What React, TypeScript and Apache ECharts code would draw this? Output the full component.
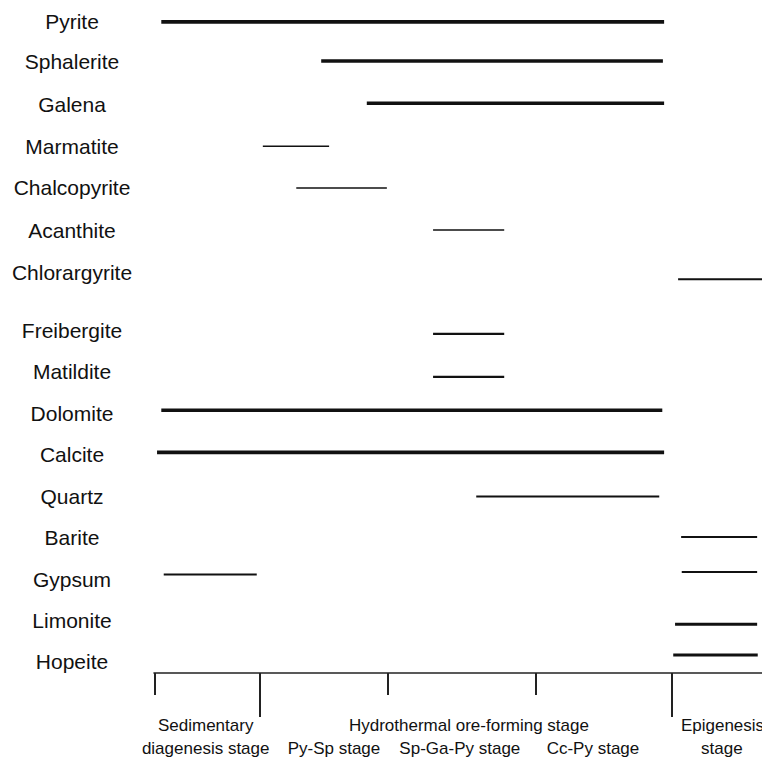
import React, { useEffect, useRef } from "react";
import * as echarts from "echarts";

// Mineral names and their label rows (row units, top = 0)
const minerals = [
  "Pyrite", "Sphalerite", "Galena", "Marmatite", "Chalcopyrite", "Acanthite",
  "Chlorargyrite", "Freibergite", "Matildite", "Dolomite", "Calcite", "Quartz",
  "Barite", "Gypsum", "Limonite", "Hopeite",
];
const labelRows = [0, 0.96, 1.97, 2.98, 3.98, 4.99, 6.0, 7.4, 8.39, 9.38, 10.36, 11.37, 12.36, 13.36, 14.34, 15.34];

// Occurrence segments (x in relative paragenetic time 0-100)
const segMineral = [0, 1, 2, 3, 4, 5, 6, 7, 8, 9, 10, 11, 12, 13, 13, 14, 15];
const segStart = [1.2, 27.5, 35.0, 17.9, 23.4, 45.9, 86.2, 45.9, 45.9, 1.2, 0.5, 53.0, 86.7, 1.6, 86.8, 85.7, 85.4];
const segEnd = [83.9, 83.7, 83.9, 28.8, 38.3, 57.6, 100, 57.6, 57.6, 83.6, 83.9, 83.1, 99.2, 16.9, 99.2, 99.2, 99.3];
const segRow = [0, 0.94, 1.95, 2.98, 3.98, 4.99, 6.17, 7.48, 8.51, 9.31, 10.32, 11.38, 12.35, 13.25, 13.19, 14.44, 15.18];
const segAbundance = [
  "major", "major", "major", "trace", "trace", "trace", "minor", "minor", "minor",
  "major", "major", "minor", "minor", "minor", "minor", "common", "common",
];

// Stage boundaries on the time axis
const stageBoundaries = [0, 17.43, 38.49, 62.83, 85.2];
const boundaryMajor = [false, true, false, false, true];

// Stage labels
const stageLabelText = [
  "Sedimentary", "diagenesis stage", "Hydrothermal ore-forming stage",
  "Py-Sp stage", "Sp-Ga-Py stage", "Cc-Py stage", "Epigenesis", "stage",
];
const stageLabelX = [8.5, 8.5, 51.8, 29.6, 50.3, 72.2, 93.5, 93.4];
const stageLabelLine = [0, 1, 0, 1, 1, 1, 0, 1];

const Y_MIN = -0.5;
const Y_MAX = 15.61;
const FONT = "'Liberation Sans', Arial, Helvetica, sans-serif";
const widthFor: Record<string, number> = { major: 3.6, common: 3, minor: 2.1, trace: 1.5 };

export default function App() {
  const ref = useRef<HTMLDivElement>(null);
  useEffect(() => {
    if (!ref.current) return;
    const chart = echarts.init(ref.current, undefined, { renderer: "svg" });
    const option: any = {
      animation: false,
      backgroundColor: "#ffffff",
      grid: { left: 154, right: 0, top: 1, bottom: 85 },
      xAxis: {
        type: "value",
        min: 0,
        max: 100,
        position: "bottom",
        axisLine: { show: true, onZero: false, lineStyle: { color: "#222", width: 1.6 } },
        axisTick: { show: false },
        axisLabel: { show: false },
        splitLine: { show: false },
      },
      yAxis: {
        type: "value",
        min: Y_MIN,
        max: Y_MAX,
        inverse: true,
        show: false,
        splitLine: { show: false },
      },
      series: [
        {
          type: "custom",
          name: "segments",
          clip: false,
          data: segMineral.map((m, i) => [segStart[i], segEnd[i], segRow[i], m]),
          renderItem: (params: any, api: any) => {
            const i = params.dataIndex;
            const p1 = api.coord([api.value(0), api.value(2)]);
            const p2 = api.coord([api.value(1), api.value(2)]);
            return {
              type: "line",
              shape: { x1: p1[0], y1: p1[1], x2: p2[0], y2: p2[1] },
              style: { stroke: "#111", lineWidth: widthFor[segAbundance[i]], lineCap: "butt" },
            };
          },
        },
        {
          type: "custom",
          name: "mineralLabels",
          clip: false,
          data: labelRows.map((r, i) => [0, r, i]),
          renderItem: (params: any, api: any) => {
            const i = params.dataIndex;
            const p = api.coord([0, api.value(1)]);
            return {
              type: "text",
              x: p[0] - 82,
              y: p[1],
              style: {
                text: minerals[i],
                fill: "#111",
                fontSize: 21,
                fontFamily: FONT,
                align: "center",
                verticalAlign: "middle",
              },
            };
          },
        },
        {
          type: "custom",
          name: "stageTicks",
          clip: false,
          data: stageBoundaries.map((b, i) => [b, Y_MAX, i]),
          renderItem: (params: any, api: any) => {
            const i = params.dataIndex;
            const p = api.coord([api.value(0), Y_MAX]);
            const len = boundaryMajor[i] ? 44 : 22;
            const x = p[0] + (i === 0 ? 1 : 0);
            return {
              type: "line",
              shape: { x1: x, y1: p[1], x2: x, y2: p[1] + len },
              style: { stroke: "#222", lineWidth: 2 },
            };
          },
        },
        {
          type: "custom",
          name: "stageLabels",
          clip: false,
          data: stageLabelX.map((x, i) => [x, Y_MAX, stageLabelLine[i]]),
          renderItem: (params: any, api: any) => {
            const i = params.dataIndex;
            const p = api.coord([api.value(0), Y_MAX]);
            return {
              type: "text",
              x: p[0],
              y: p[1] + 52 + 23 * stageLabelLine[i],
              style: {
                text: stageLabelText[i],
                fill: "#111",
                fontSize: 17,
                fontFamily: FONT,
                align: "center",
                verticalAlign: "middle",
              },
            };
          },
        },
      ],
    };
    chart.setOption(option);
    return () => chart.dispose();
  }, []);
  return (
    <div
      ref={ref}
      style={{ position: "fixed", left: 0, top: 0, width: 762, height: 758, background: "#fff" }}
    />
  );
}
